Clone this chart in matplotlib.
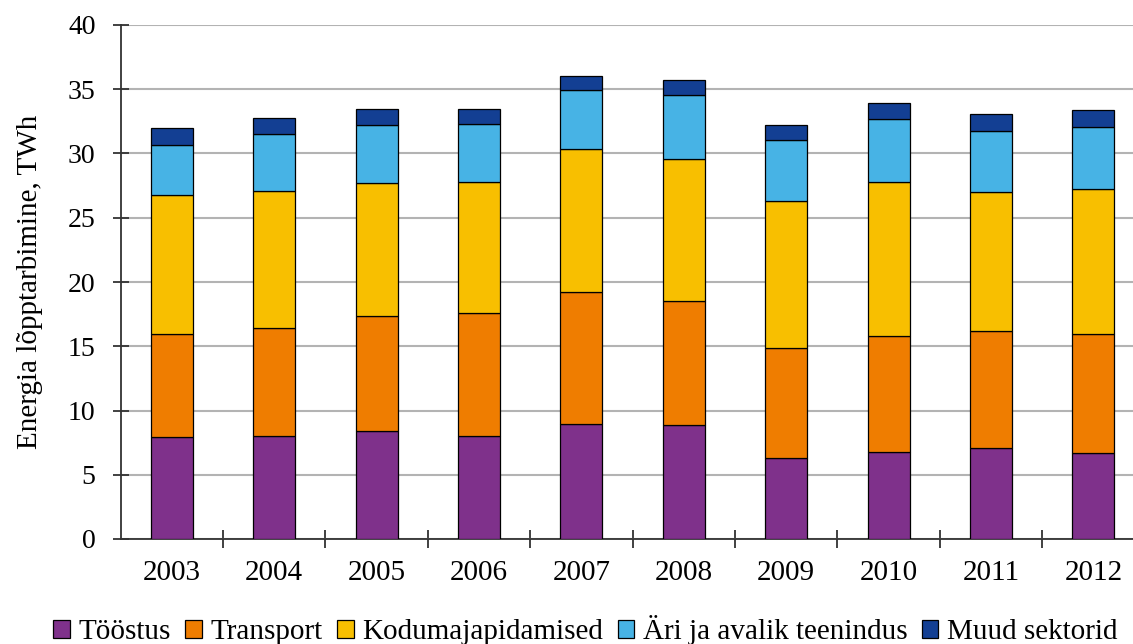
import numpy as np
import matplotlib.pyplot as plt

plt.rcParams['font.family'] = ['Liberation Serif', 'DejaVu Serif']

years = ['2003', '2004', '2005', '2006', '2007', '2008', '2009', '2010', '2011', '2012']

# energy end use by sector, TWh
toostus = [7.94, 8.04, 8.38, 8.04, 8.95, 8.85, 6.28, 6.75, 7.10, 6.67]
transport = [8.01, 8.36, 8.97, 9.52, 10.25, 9.65, 8.62, 9.07, 9.06, 9.28]
kodumaj = [10.80, 10.70, 10.35, 10.24, 11.15, 11.05, 11.40, 11.98, 10.84, 11.25]
ari = [3.93, 4.40, 4.50, 4.50, 4.62, 5.00, 4.75, 4.90, 4.75, 4.90]
muud = [1.32, 1.30, 1.30, 1.20, 1.09, 1.15, 1.15, 1.20, 1.30, 1.30]

series = [
    ('Tööstus', toostus, '#7f318b'),
    ('Transport', transport, '#ef7d00'),
    ('Kodumajapidamised', kodumaj, '#f8bf00'),
    ('Äri ja avalik teenindus', ari, '#47b3e5'),
    ('Muud sektorid', muud, '#133f93'),
]

fig = plt.figure(figsize=(11.33, 6.44), dpi=100)
ax = fig.add_axes([120.6 / 1133, 105 / 644, 1024 / 1133, 514 / 644])

x = np.arange(len(years))
bottom = np.zeros(len(years))
for name, vals, col in series:
    ax.bar(x, vals, 0.41, bottom=bottom, color=col, edgecolor='black',
           linewidth=0.9, label=name, zorder=3)
    bottom += np.array(vals)

ax.set_ylim(0, 40)
ax.set_yticks(range(0, 41, 5))
ax.set_xlim(-0.5, 9.5)
ax.set_xticks(x)
ax.set_xticklabels(years)
ax.set_xticks(x[:-1] + 0.5, minor=True)

ax.yaxis.grid(True, color='#b3b3b3', linewidth=1.5, zorder=0)
ax.set_axisbelow(True)
for s in ['top', 'right']:
    ax.spines[s].set_visible(False)
for s in ['left', 'bottom']:
    ax.spines[s].set_color('#333333')
    ax.spines[s].set_linewidth(1.3)

ax.tick_params(axis='y', direction='inout', length=12, width=1.3,
               color='#333333', pad=12, labelsize=20)
ax.tick_params(axis='x', which='major', length=0, pad=15, labelsize=21)
ax.tick_params(axis='x', which='minor', direction='inout', length=13,
               width=1.3, color='#333333')

ax.set_ylabel('Energia lõpptarbimine, TWh', fontsize=21)
ax.yaxis.set_label_coords(-0.0758, 0.5)

fig.legend(loc='center', bbox_to_anchor=(0.5168, 0.0217), ncol=5,
           frameon=False, fontsize=21, handlelength=0.56, handleheight=0.56,
           handletextpad=0.3, columnspacing=0.5, borderpad=0,
           borderaxespad=0)

plt.savefig('out.png', dpi=100)
